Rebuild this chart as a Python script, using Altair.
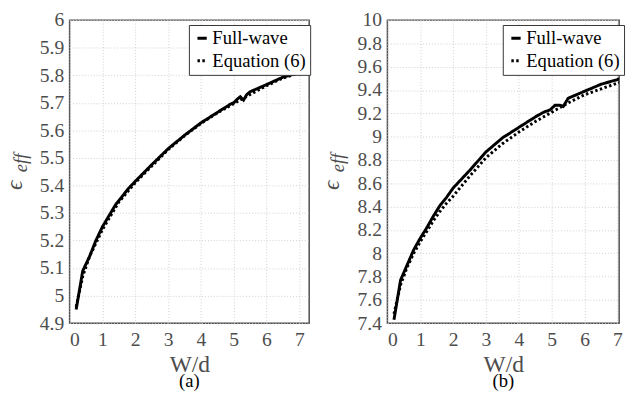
import altair as alt
import pandas as pd

# ---------------- data ----------------
# Panel (a)
a_fw_x = [0.2, 0.4, 0.6, 0.8, 1.0, 1.2, 1.4, 1.6, 1.8, 2.0, 2.5, 3.0, 3.5, 4.0, 4.5, 4.9, 5.0, 5.1, 5.2, 5.3, 5.4, 5.5, 6.0, 6.5, 7.0, 7.3]
a_fw_y = [4.95, 5.09, 5.14, 5.20, 5.25, 5.29, 5.33, 5.36, 5.39, 5.415, 5.475, 5.533, 5.582, 5.627, 5.665, 5.695, 5.700, 5.712, 5.722, 5.710, 5.730, 5.740, 5.766, 5.793, 5.810, 5.822]
a_eq_x = [0.2, 0.4, 0.6, 0.8, 1.0, 1.5, 2.0, 2.5, 3.0, 3.5, 4.0, 4.5, 5.0, 5.5, 6.0, 6.5, 7.0, 7.3]
a_eq_y = [4.96, 5.07, 5.14, 5.19, 5.24, 5.34, 5.41, 5.47, 5.53, 5.58, 5.625, 5.663, 5.697, 5.730, 5.762, 5.790, 5.808, 5.820]

# Panel (b)  (right edge of this panel is cut just past W/d = 7 in the figure)
b_fw_x = [0.2, 0.4, 0.6, 0.8, 1.0, 1.2, 1.4, 1.6, 1.8, 2.0, 2.5, 3.0, 3.5, 4.0, 4.5, 4.75, 4.95, 5.1, 5.25, 5.35, 5.5, 6.0, 6.5, 7.0, 7.05]
b_fw_y = [7.43, 7.77, 7.90, 8.03, 8.13, 8.22, 8.32, 8.41, 8.48, 8.56, 8.71, 8.87, 8.99, 9.08, 9.17, 9.21, 9.23, 9.27, 9.27, 9.26, 9.33, 9.39, 9.45, 9.49, 9.50]
b_eq_x = [0.2, 0.4, 0.6, 0.8, 1.0, 1.2, 1.4, 1.6, 1.8, 2.0, 2.5, 3.0, 3.5, 4.0, 4.5, 5.0, 5.5, 6.0, 6.5, 7.0, 7.05]
b_eq_y = [7.48, 7.73, 7.88, 8.00, 8.10, 8.19, 8.28, 8.36, 8.43, 8.49, 8.66, 8.82, 8.94, 9.04, 9.13, 9.21, 9.29, 9.36, 9.41, 9.46, 9.465]

series_names = ["Full-wave", "Equation (6)"]
x_ticks = [0, 1, 2, 3, 4, 5, 6, 7]
a_y_ticks = [round(4.9 + 0.1 * i, 1) for i in range(12)]
b_y_ticks = [round(7.4 + 0.2 * i, 1) for i in range(14)]

FONT = "Liberation Serif"
GRAY = "#4d4d4d"


def make_df(fx, fy, ex, ey):
    return pd.concat([
        pd.DataFrame({"x": fx, "y": fy, "series": series_names[0]}),
        pd.DataFrame({"x": ex, "y": ey, "series": series_names[1]}),
    ], ignore_index=True)


def panel(df, xmax, ydom, yticks, caption, width, height, legend_x):
    xs = alt.Scale(domain=[0, xmax], nice=False, zero=False)
    ys = alt.Scale(domain=ydom, nice=False, zero=False)
    lines = alt.Chart(df).mark_line(strokeWidth=3, color="black", clip=True).encode(
        x=alt.X("x:Q", scale=xs,
                axis=alt.Axis(values=x_ticks, title="W/d", format="d")),
        y=alt.Y("y:Q", scale=ys,
                axis=alt.Axis(values=yticks, title=None, format=".1~f")),
        strokeDash=alt.StrokeDash(
            "series:N",
            scale=alt.Scale(domain=series_names, range=[[1, 0], [2.5, 2.5]]),
            legend=alt.Legend(title=None, orient="none", legendX=legend_x, legendY=5,
                              fillColor="white", strokeColor="#333333", padding=4,
                              labelFont=FONT, labelFontSize=19, labelColor="black",
                              symbolType="stroke", symbolStrokeWidth=3, symbolSize=90,
                              symbolStrokeColor="black", labelOffset=1, rowPadding=3,
                              labelLimit=200),
        ),
        order=alt.Order("x:Q"),
    )
    eps = alt.Chart(alt.Data(values=[{"t": "ϵ"}])).mark_text(
        font=FONT, fontSize=24, angle=270, color=GRAY, fontStyle="italic"
    ).encode(x=alt.value(-56), y=alt.value(169), text="t:N")
    sub = alt.Chart(alt.Data(values=[{"t": "eff"}])).mark_text(
        font=FONT, fontSize=19, angle=270, color=GRAY, fontStyle="italic"
    ).encode(x=alt.value(-50), y=alt.value(146), text="t:N")
    return alt.layer(lines, eps, sub).properties(
        width=width, height=height,
        title=alt.TitleParams(caption, orient="bottom", font=FONT, fontSize=19,
                              fontWeight="normal", color="black", offset=-4),
    )


df_a = make_df(a_fw_x, a_fw_y, a_eq_x, a_eq_y)
df_b = make_df(b_fw_x, b_fw_y, b_eq_x, b_eq_y)

pa = panel(df_a, 7.3, [4.9, 6.0], a_y_ticks, "(a)", 245, 310, 122)
pb = panel(df_b, 7.05, [7.4, 10.0], b_y_ticks, "(b)", 237, 310, 118)

chart = alt.hconcat(pa, pb, spacing=8).resolve_scale(strokeDash="independent").resolve_legend(
    strokeDash="independent"
).properties(
    padding={"left": -6, "top": -3, "right": 0, "bottom": 0}
).configure_view(
    stroke=GRAY, strokeWidth=1.5
).configure_axis(
    labelFont=FONT, labelFontSize=20, labelColor=GRAY,
    titleFont=FONT, titleFontSize=24, titleColor=GRAY, titleFontWeight="normal",
    grid=True, gridColor="#cfcfcf", gridDash=[1, 2], gridWidth=1,
    domain=False, ticks=False,
).configure_axisX(labelPadding=7, titlePadding=3).configure_axisY(labelPadding=6)

chart.save("out.html", embed_options={"renderer": "svg", "actions": False})
